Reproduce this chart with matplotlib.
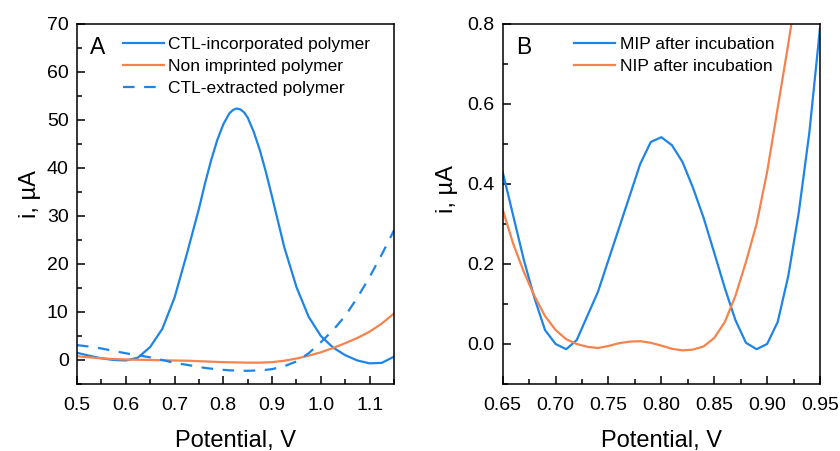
import matplotlib
matplotlib.use('Agg')
import matplotlib.pyplot as plt
from matplotlib.ticker import MultipleLocator, FormatStrFormatter

plt.rcParams['font.family'] = ['Liberation Sans', 'DejaVu Sans']

# ---------------- Panel A data ----------------
xa = [0.500, 0.525, 0.550, 0.575, 0.600, 0.625, 0.650, 0.675, 0.700, 0.725,
      0.750, 0.7625, 0.775, 0.7875, 0.800, 0.8125, 0.820, 0.8275, 0.835, 0.8425,
      0.850, 0.8625, 0.875, 0.8875, 0.900, 0.925, 0.950, 0.975, 1.000, 1.025,
      1.050, 1.075, 1.100, 1.125, 1.150]
ctl_incorporated = [1.5, 0.9, 0.35, 0.0, -0.1, 0.5, 2.7, 6.5, 13.0, 22.0,
                    31.5, 36.8, 41.6, 45.8, 49.1, 51.4, 52.1, 52.4, 52.2, 51.6,
                    50.5, 47.5, 43.7, 39.1, 34.0, 23.5, 15.2, 9.0, 5.0, 2.6,
                    1.0, -0.1, -0.7, -0.6, 0.7]
non_imprinted = [0.8, 0.55, 0.35, 0.2, 0.1, 0.05, 0.0, -0.05, -0.1, -0.15,
                 -0.25, -0.3, -0.35, -0.4, -0.45, -0.48, -0.49, -0.5, -0.52, -0.54,
                 -0.55, -0.55, -0.55, -0.5, -0.45, -0.15, 0.3, 0.9, 1.6, 2.5,
                 3.5, 4.6, 5.9, 7.6, 9.7]
ctl_extracted = [3.1, 2.8, 2.4, 1.9, 1.4, 1.0, 0.55, 0.0, -0.6, -1.0,
                 -1.45, -1.65, -1.8, -1.95, -2.05, -2.15, -2.18, -2.2, -2.22, -2.24,
                 -2.25, -2.2, -2.15, -2.05, -1.9, -1.3, -0.3, 1.4, 3.7, 6.2,
                 9.2, 13.0, 17.3, 22.0, 27.0]
labels_a = ['CTL-incorporated polymer', 'Non imprinted polymer', 'CTL-extracted polymer']

# ---------------- Panel B data ----------------
xb = [0.65, 0.66, 0.67, 0.68, 0.69, 0.70, 0.71, 0.72, 0.73, 0.74,
      0.75, 0.76, 0.77, 0.78, 0.79, 0.80, 0.81, 0.82, 0.83, 0.84,
      0.85, 0.86, 0.87, 0.88, 0.89, 0.90, 0.91, 0.92, 0.93, 0.94, 0.95]
mip = [0.43, 0.32, 0.21, 0.115, 0.035, 0.0, -0.013, 0.01, 0.07, 0.13,
       0.21, 0.29, 0.37, 0.45, 0.505, 0.517, 0.497, 0.455, 0.39, 0.315,
       0.228, 0.14, 0.06, 0.003, -0.013, 0.0, 0.055, 0.17, 0.33, 0.53, 0.79]
nip = [0.336, 0.25, 0.18, 0.12, 0.07, 0.035, 0.012, 0.0, -0.007, -0.01,
       -0.005, 0.002, 0.006, 0.007, 0.003, -0.004, -0.012, -0.016, -0.014, -0.006,
       0.015, 0.055, 0.12, 0.205, 0.30, 0.43, 0.59, 0.75, 0.92, 1.1, 1.3]
labels_b = ['MIP after incubation', 'NIP after incubation']

BLUE = '#1E84E6'
ORANGE = '#F5834D'
LW = 1.6

fig = plt.figure(figsize=(8.4, 4.51), dpi=100)
axA = fig.add_axes([77/840, 1-384/451, 317/840, 360/451])
axB = fig.add_axes([502.7/840, 1-384/451, 317.3/840, 360/451])

axA.plot(xa, ctl_incorporated, color=BLUE, lw=LW, label=labels_a[0])
axA.plot(xa, non_imprinted, color=ORANGE, lw=LW, label=labels_a[1])
axA.plot(xa, ctl_extracted, color=BLUE, lw=LW, dashes=(5.2, 4.3), label=labels_a[2])
axA.set_xlim(0.5, 1.15)
axA.set_ylim(-5, 70)
axA.xaxis.set_major_locator(MultipleLocator(0.1))
axA.xaxis.set_minor_locator(MultipleLocator(0.05))
axA.yaxis.set_major_locator(MultipleLocator(10))
axA.yaxis.set_minor_locator(MultipleLocator(5))
axA.xaxis.set_major_formatter(FormatStrFormatter('%.1f'))

axB.plot(xb, mip, color=BLUE, lw=LW, label=labels_b[0])
axB.plot(xb, nip, color=ORANGE, lw=LW, label=labels_b[1])
axB.set_xlim(0.65, 0.95)
axB.set_ylim(-0.1, 0.8)
axB.xaxis.set_major_locator(MultipleLocator(0.05))
axB.xaxis.set_minor_locator(MultipleLocator(0.025))
axB.yaxis.set_major_locator(MultipleLocator(0.2))
axB.yaxis.set_minor_locator(MultipleLocator(0.1))
axB.xaxis.set_major_formatter(FormatStrFormatter('%.2f'))
axB.yaxis.set_major_formatter(FormatStrFormatter('%.1f'))

for ax, letter in ((axA, 'A'), (axB, 'B')):
    for sp in ax.spines.values():
        sp.set_linewidth(1.1)
    ax.tick_params(which='both', direction='in', top=False, right=False, width=1.1,
                   labelsize=14)
    ax.tick_params(which='major', length=6)
    ax.tick_params(which='minor', length=3.5)
    ax.tick_params(axis='x', pad=9)
    ax.tick_params(axis='y', pad=6)
    ax.set_xlabel('Potential, V', fontsize=17, labelpad=12)
    ax.set_ylabel('i, µA', fontsize=17)
    ax.text(0.041, 0.936, letter, transform=ax.transAxes, fontsize=16.5,
            ha='left', va='center')

axA.yaxis.set_label_coords(-0.115, 0.528)
axB.yaxis.set_label_coords(-0.142, 0.542)

axA.legend(loc='upper left', bbox_to_anchor=(0.145, 0.964), frameon=False,
           fontsize=12.5, handlelength=2.36, handletextpad=0.23,
           labelspacing=0.4, borderpad=0, borderaxespad=0)
axB.legend(loc='upper left', bbox_to_anchor=(0.2247, 0.964), frameon=False,
           fontsize=12.5, handlelength=2.36, handletextpad=0.29,
           labelspacing=0.4, borderpad=0, borderaxespad=0)

fig.savefig('out.png', dpi=100)
